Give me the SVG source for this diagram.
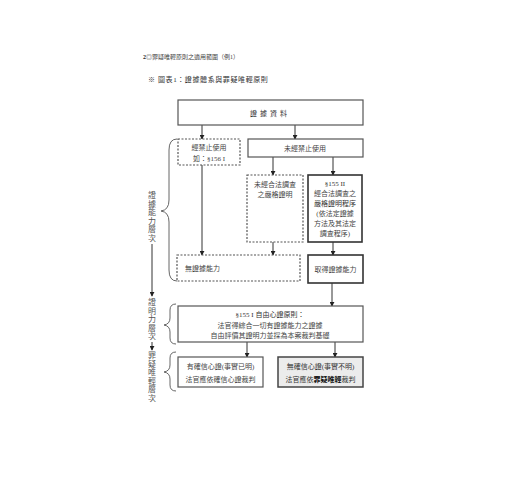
<svg xmlns="http://www.w3.org/2000/svg" width="520" height="500" viewBox="0 0 520 500">
<defs>
<marker id="ah" viewBox="0 0 6 6" refX="5" refY="3" markerWidth="5" markerHeight="5" orient="auto" markerUnits="userSpaceOnUse">
<path d="M0,0 L6,3 L0,6 Z" fill="#222"/>
</marker>
<style>
text{font-family:"Liberation Serif","Noto Sans CJK TC",serif;fill:#444;font-size:7px}
.c{text-anchor:middle}
.box{fill:#fff;stroke:#555;stroke-width:1.2}
.bx2{fill:#fff;stroke:#333;stroke-width:1.6}
.dash{fill:#fff;stroke:#555;stroke-width:1.2;stroke-dasharray:2 1.5}
.gray{fill:#ececec;stroke:#444;stroke-width:1.5}
.ln{stroke:#333;stroke-width:1;fill:none}
.br{stroke:#555;stroke-width:0.9;fill:none}
.v{font-family:"Noto Sans CJK TC",sans-serif;writing-mode:vertical-rl;text-orientation:upright;font-size:8px;letter-spacing:0.5px;fill:#555}
</style>
</defs>
<rect width="520" height="500" fill="#fff"/>
<g id="header">
<text x="143" y="59" style="font-size:6px"><tspan style="font-weight:bold;fill:#222">2</tspan>◎罪疑唯輕原則之適用範圍（例1）</text>
<text x="148" y="82" style="font-size:7px;letter-spacing:0.6px;fill:#333">※ 圖表1：證據體系與罪疑唯輕原則</text>
</g>
<g id="connectors">
<line class="ln" x1="202" y1="125" x2="202" y2="139" marker-end="url(#ah)"/>
<line class="ln" x1="295" y1="125" x2="295" y2="139" marker-end="url(#ah)"/>
<line class="ln" x1="273" y1="157" x2="273" y2="175" marker-end="url(#ah)"/>
<line class="ln" x1="333" y1="157" x2="333" y2="175" marker-end="url(#ah)"/>
<line class="ln" x1="202" y1="165" x2="202" y2="255" marker-end="url(#ah)"/>
<line class="ln" x1="273" y1="242" x2="273" y2="255" marker-end="url(#ah)"/>
<line class="ln" x1="333" y1="242" x2="333" y2="255" marker-end="url(#ah)"/>
<line class="ln" x1="332" y1="283" x2="332" y2="306" marker-end="url(#ah)"/>
<line class="ln" x1="247" y1="342" x2="247" y2="357" marker-end="url(#ah)"/>
<line class="ln" x1="335" y1="342" x2="335" y2="357" marker-end="url(#ah)"/>
<line class="ln" x1="152" y1="244" x2="152" y2="296" marker-end="url(#ah)"/>
<line class="ln" x1="152" y1="342" x2="152" y2="350" marker-end="url(#ah)"/>
</g>
<g id="levels">
<text class="v" x="152" y="191">證據能力層次</text>
<text class="v" x="152" y="298">證明力層次</text>
<text class="v" x="152" y="351">罪疑唯輕層次</text>
<path class="br" d="M177,139 Q169,139 169,150 L169,200 Q169,210 161,211 Q169,212 169,222 L169,270 Q169,281 177,281"/>
<path class="br" d="M176,304 Q170,304 170,310 L170,318 Q170,324 164,325 Q170,326 170,332 L170,338 Q170,344 176,344"/>
<path class="br" d="M176,352 Q170,352 170,358 L170,365 Q170,371 164,372 Q170,373 170,379 L170,385 Q170,391 176,391"/>
</g>
<g id="n-source">
<rect class="box" x="178" y="100" width="185" height="25"/>
<text class="c" x="270" y="115.5" style="letter-spacing:3px;fill:#333">證據資料</text>
</g>
<g id="n-prohibited">
<rect class="dash" x="178" y="139" width="62" height="26"/>
<text class="c" x="209" y="150">經禁止使用</text>
<text class="c" x="209" y="161">如：§156 I</text>
</g>
<g id="n-notprohibited">
<rect class="box" x="248" y="139" width="115" height="18"/>
<text class="c" x="305" y="150.5">未經禁止使用</text>
</g>
<g id="n-unlawful">
<rect class="dash" x="247" y="175" width="56" height="67"/>
<text class="c" x="275" y="187">未經合法調查</text>
<text class="c" x="275" y="197">之嚴格證明</text>
</g>
<g id="n-155ii">
<rect class="bx2" x="308" y="175" width="54" height="67"/>
<text class="c" x="335" y="186" style="fill:#333">§155 II</text>
<text class="c" x="335" y="196">經合法調查之</text>
<text class="c" x="335" y="206" style="fill:#333">嚴格證明程序</text>
<text class="c" x="335" y="216">(依法定證據</text>
<text class="c" x="335" y="226">方法及其法定</text>
<text class="c" x="335" y="236">調查程序)</text>
</g>
<g id="n-noevidence">
<rect class="dash" x="177" y="255" width="123" height="26"/>
<text x="185" y="270.5">無證據能力</text>
</g>
<g id="n-evidence">
<rect class="bx2" x="308" y="255" width="55" height="28"/>
<text class="c" x="335.5" y="271.5">取得證據能力</text>
</g>
<g id="n-155i">
<rect class="box" x="178" y="306" width="185" height="36"/>
<text class="c" x="270" y="316.5" style="fill:#333">§155 I 自由心證原則：</text>
<text class="c" x="270" y="327.5">法官得綜合一切有證據能力之證據</text>
<text class="c" x="270" y="338">自由評價其證明力並採為本案裁判基礎</text>
</g>
<g id="n-convinced">
<rect class="box" x="178" y="357" width="85" height="30"/>
<text class="c" x="220.5" y="369">有確信心證(事實已明)</text>
<text class="c" x="220.5" y="381.5">法官應依確信心證裁判</text>
</g>
<g id="n-doubt">
<rect class="gray" x="278" y="357" width="85" height="30"/>
<text class="c" x="320.5" y="369" style="fill:#333">無確信心證(事實不明)</text>
<text class="c" x="320.5" y="381.5" style="fill:#333">法官應依<tspan style="font-weight:bold;fill:#111">罪疑唯輕</tspan>裁判</text>
</g>
</svg>
